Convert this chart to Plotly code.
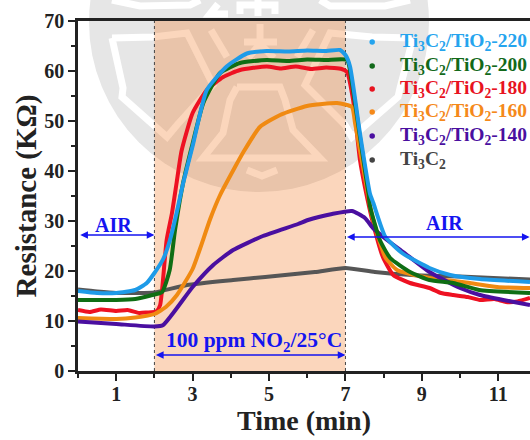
import plotly.graph_objects as go

# ---------- data ----------
t_220 = [0, 0.5, 1, 1.5, 1.8, 2.0, 2.23, 2.4, 2.58, 2.75, 3.0, 3.37, 3.89, 4.42, 4.94, 5.5, 6.0, 6.5, 6.86, 7.0, 7.12, 7.38, 7.64, 7.73, 8.04, 8.5, 9.2, 9.74, 10.52, 11.83]
r_220 = [16, 15.6, 15.6, 16.2, 17.6, 19.6, 22.4, 26, 31.6, 37.5, 45, 56.2, 60.9, 63.5, 64.0, 63.9, 64.1, 64.0, 64.2, 63.2, 60.9, 47.5, 35.5, 33.6, 26.9, 23.5, 20.6, 19.2, 18.4, 17.8]
t_200 = [0, 1, 1.5, 1.9, 2.2, 2.4, 2.54, 2.75, 2.98, 3.28, 3.72, 4.24, 4.94, 5.5, 6.0, 6.5, 7.04, 7.17, 7.43, 7.6, 7.64, 7.9, 8.17, 8.69, 9.2, 9.82, 10.5, 11.83]
r_200 = [14.2, 14.2, 14.4, 15.1, 15.8, 20.2, 28.2, 37.6, 44.9, 53.6, 59.6, 61.6, 62.2, 62.0, 62.3, 62.2, 62.2, 57.6, 44.2, 35.6, 33, 26.2, 22.6, 19.8, 18.2, 17.6, 16.2, 15.6]
t_180 = [0, 0.3, 0.6, 1, 1.3, 1.6, 1.8, 2.05, 2.15, 2.32, 2.46, 2.58, 2.71, 3.0, 3.37, 3.8, 4.24, 4.94, 5.3, 5.7, 6.1, 6.5, 6.9, 7.04, 7.2, 7.38, 7.51, 7.72, 7.98, 8.25, 8.69, 9.2, 9.5, 9.82, 10.2, 10.52, 10.9, 11.2, 11.5, 11.83]
r_180 = [12.2, 11.8, 12.3, 12.0, 12.2, 11.6, 11.7, 11.9, 13.2, 26.2, 31.6, 37.6, 44, 51.6, 56.2, 58.8, 60.2, 60.9, 60.5, 60.9, 60.4, 60.7, 60.4, 59.8, 54.2, 42.2, 36.8, 29.6, 22.8, 19.2, 17.6, 16.6, 15.6, 15.2, 14.8, 14.2, 14.4, 13.8, 13.9, 14.6]
t_160 = [0, 1, 1.5, 2, 2.3, 2.59, 3.0, 3.2, 3.46, 3.72, 4.11, 4.33, 4.76, 5.29, 5.99, 6.78, 7.17, 7.25, 7.46, 7.7, 8.04, 8.35, 9.2, 10.26, 10.97, 11.83]
r_160 = [10.6, 10.4, 10.7, 11.4, 12.8, 15.2, 20.4, 24.6, 30.4, 35.2, 40.8, 43.8, 48.8, 51.2, 53, 53.6, 52.8, 49.6, 40.8, 31, 22.8, 20.2, 18.6, 17.6, 16.8, 16.6]
t_140 = [0, 1, 2, 2.23, 3.0, 3.54, 4.06, 4.84, 5.76, 6.02, 6.65, 7.17, 7.51, 7.72, 8.09, 8.51, 9.2, 10, 10.52, 11.13, 11.83]
r_140 = [9.9, 9.4, 8.9, 9.2, 16.8, 21.2, 24.2, 27.0, 29.4, 30.2, 31.4, 32, 30.6, 28.6, 26.2, 23.8, 19.8, 16.6, 15.2, 14.2, 13.2]
t_bare = [0, 0.5, 1, 1.5, 2, 2.85, 4.06, 4.9, 6.2, 7, 7.77, 8.74, 10, 11.83]
r_bare = [16.3, 15.9, 15.6, 15.6, 15.7, 17.2, 18.2, 18.8, 19.8, 20.6, 19.8, 19.2, 18.9, 18.3]

legend_labels = ["Ti<sub>3</sub>C<sub>2</sub>/TiO<sub>2</sub>-220", "Ti<sub>3</sub>C<sub>2</sub>/TiO<sub>2</sub>-200",
                 "Ti<sub>3</sub>C<sub>2</sub>/TiO<sub>2</sub>-180", "Ti<sub>3</sub>C<sub>2</sub>/TiO<sub>2</sub>-160",
                 "Ti<sub>3</sub>C<sub>2</sub>/TiO<sub>2</sub>-140", "Ti<sub>3</sub>C<sub>2</sub>"]
legend_colors = ["#25a4ee", "#12691a", "#e8131f", "#f5891a", "#4a0fa0", "#444444"]
legend_dot_x = [7.7] * 6
legend_dot_y = [65.8, 61.0, 56.4, 51.8, 47.0, 42.2]

# ---------- layout geometry ----------
L, T, B = 78, 21, 371
W = 452
H = B - T
FONT = "Liberation Serif"
def px(x): return (x - L) / W
def py(y): return (B - y) / H

fig = go.Figure()
series = [(t_bare, r_bare, "#565656", "Ti3C2"), (t_180, r_180, "#ee1122", "180"), (t_160, r_160, "#f08a12", "160"),
          (t_140, r_140, "#4a0fa0", "140"), (t_200, r_200, "#0f6e14", "200"), (t_220, r_220, "#1e9be8", "220")]
for x, y, c, n in series:
    fig.add_trace(go.Scatter(x=x, y=y, mode="lines", name=n,
                             line=dict(color=c, width=4, shape="spline", smoothing=0.5)))
fig.add_trace(go.Scatter(x=legend_dot_x, y=legend_dot_y, mode="markers", name="legend",
                         marker=dict(color=legend_colors, size=5.5)))

# ---------- watermark (decoration beneath everything) ----------
def pth(points, close=False):
    s = "M" + " L".join(f"{px(a):.4f},{py(b):.4f}" for a, b in points)
    return s + (" Z" if close else "")

shapes = [dict(type="circle", xref="paper", yref="paper", layer="below", x0=px(89), x1=px(429),
               y0=py(192), y1=py(-148), fillcolor="#e6e6e6", line=dict(width=0))]
wm_paths = [
    [(112, 38), (153, 37), (187, 33), (213, 85), (177, 125), (167, 137), (122, 97), (123, 88), (112, 38)],
    [(413, 38), (372, 37), (330, 33), (305, 85), (345, 125), (352, 137), (398, 97), (400, 88), (413, 38)],
    [(237, 87), (280, 87), (285, 100), (293, 130), (320, 158), (203, 158), (223, 133), (230, 100), (237, 87)],
    [(247, 170), (262, 176), (277, 170)],
    [(211, 30), (227, 57)], [(313, 30), (297, 57)],
    [(244, 42), (277, 42)], [(260, 24), (260, 46)], [(260, 44), (248, 58)], [(260, 44), (274, 58)],
    [(112, 0), (140, 6), (190, 5), (200, 0)],
    [(320, 0), (330, 6), (385, 6), (410, 0)],
    [(240, 14), (240, 5), (275, 5), (275, 14)], [(258, 0), (258, 16)], [(218, 4), (210, 14), (228, 14)],
]
for p in wm_paths:
    shapes.append(dict(type="path", xref="paper", yref="paper", layer="below", path=pth(p),
                       line=dict(color="white", width=7)))
# exposure window
shapes.append(dict(type="rect", xref="x", yref="y", layer="below", x0=2, x1=7, y0=0, y1=70,
                   fillcolor="rgba(240,108,16,0.28)", line=dict(width=0)))
for v in (2, 7):
    shapes.append(dict(type="line", xref="x", yref="y", layer="below", x0=v, x1=v, y0=0, y1=70,
                       line=dict(color="#444444", width=1, dash="dot")))

# ---------- annotations ----------
BLUE = "#1414f0"
ann = []
def arrow(x0, x1, y):
    ann.append(dict(x=x1, y=y, ax=x0, ay=y, xref="x", yref="y", axref="x", ayref="y", text="", showarrow=True,
                    arrowhead=2, arrowside="end+start", arrowsize=1.1, arrowwidth=1.4, arrowcolor=BLUE,
                    standoff=0, startstandoff=0))
arrow(0.02, 2.0, 27.2)
arrow(2.0, 7.0, 3.2)
arrow(7.0, 11.82, 26.8)
def blue_text(text, x, y, size):
    ann.append(dict(text=text, x=px(x), y=py(y), xref="paper", yref="paper", showarrow=False, xanchor="center",
                    yanchor="middle", font=dict(family=FONT, size=size, color=BLUE, weight="bold")))
blue_text("AIR", 113, 225, 20)
blue_text("AIR", 444, 223, 20)
blue_text("100 ppm NO<sub>2</sub>/25°C", 254, 341, 21.5)
for lab, col, yy in zip(legend_labels, legend_colors, [42, 66, 89, 112, 136, 160]):
    ann.append(dict(text=lab, x=px(398), y=py(yy), xref="paper", yref="paper", showarrow=False, xanchor="left",
                    yanchor="middle", font=dict(family=FONT, size=19.5, color=col, weight="bold")))

axis_font = dict(family=FONT, size=20, color="#222222", weight="bold")
fig.update_layout(
    width=530, height=440, autosize=False, showlegend=False,
    margin=dict(l=L, r=0, t=T, b=440 - B, autoexpand=False),
    paper_bgcolor="white", plot_bgcolor="rgba(0,0,0,0)",
    shapes=shapes, annotations=ann,
    xaxis=dict(range=[0, 11.83], tick0=1, dtick=2, ticks="outside", ticklen=7, tickwidth=2, tickcolor="#222222",
               showline=True, linewidth=2.5, linecolor="#222222", mirror=True, showgrid=False, zeroline=False,
               tickfont=axis_font, ticklabelstandoff=-4,
               minor=dict(tick0=0, dtick=1, ticks="outside", ticklen=4, tickwidth=2, tickcolor="#222222"),
               title=dict(text="Time (min)", font=dict(family=FONT, size=28, color="#222222", weight="bold"), standoff=4)),
    yaxis=dict(range=[0, 70], tick0=0, dtick=10, ticks="outside", ticklen=7, tickwidth=2, tickcolor="#222222",
               showline=True, linewidth=2.5, linecolor="#222222", showgrid=False, zeroline=False,
               tickfont=axis_font, minor=dict(dtick=5, ticks="outside", ticklen=4, tickwidth=2, tickcolor="#222222"),
               title=dict(text="Resistance (KΩ)", font=dict(family=FONT, size=29, color="#222222", weight="bold"), standoff=0)),
)
fig.write_html("out.html", config={"displayModeBar": False},
               post_script="document.body.style.margin='0';document.documentElement.style.overflow='hidden';")
